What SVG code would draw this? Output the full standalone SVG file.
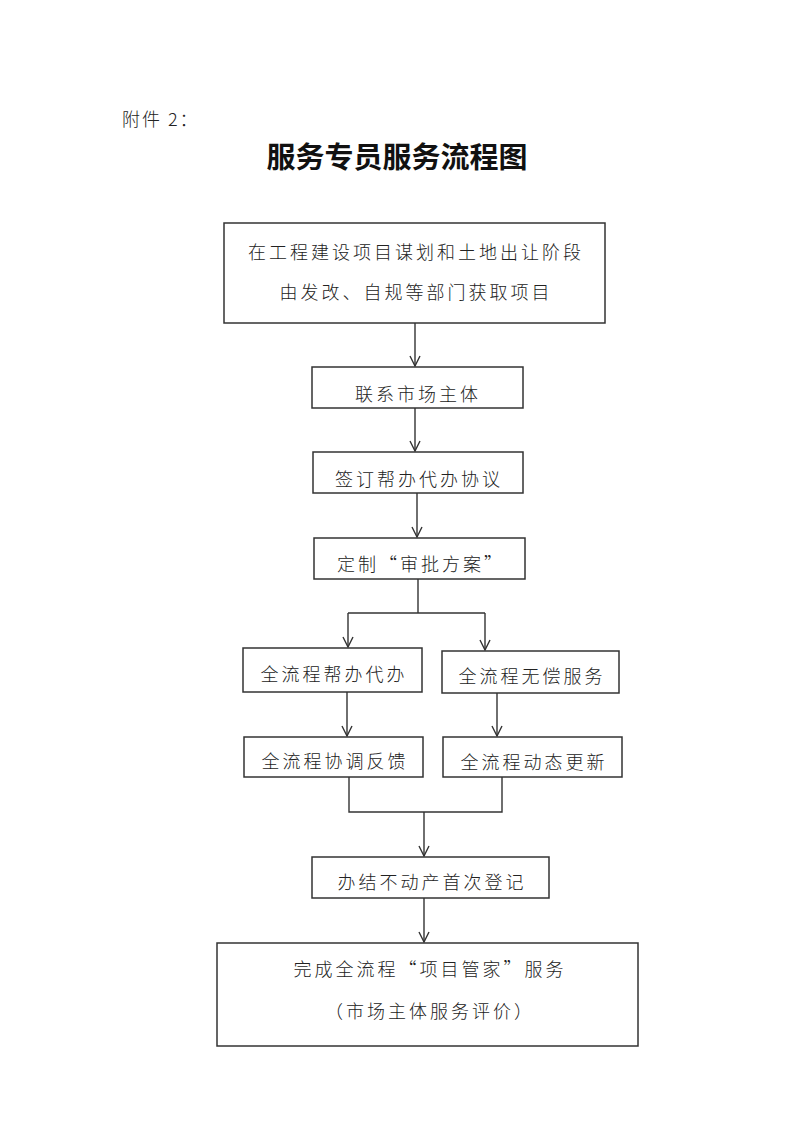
<svg xmlns="http://www.w3.org/2000/svg" width="793" height="1122" viewBox="0 0 793 1122">
<style>
.box{fill:#fff;stroke:#333;stroke-width:1.5}
.t{font-family:"Noto Sans CJK SC","Noto Sans",sans-serif;font-size:18px;font-weight:300;fill:#222;text-anchor:middle;letter-spacing:3px}
.c{fill:none;stroke:#333;stroke-width:1.4}
</style>
<defs>
<marker id="ah" viewBox="0 0 12 12" refX="11" refY="6" markerWidth="12" markerHeight="12" markerUnits="userSpaceOnUse" orient="auto">
<path d="M1,1 L11,6 L1,11" fill="none" stroke="#333" stroke-width="1.4"/>
</marker>
</defs>
<rect width="793" height="1122" fill="#fff"/>
<text x="122" y="126" style="font-family:'Noto Sans CJK SC',sans-serif;font-size:18px;font-weight:300;fill:#222;letter-spacing:2px">附件 2：</text>
<text x="397" y="168" style="font-family:'Noto Sans CJK SC',sans-serif;font-size:29px;font-weight:bold;fill:#111;text-anchor:middle">服务专员服务流程图</text>

<g id="connectors">
<line class="c" x1="415" y1="323" x2="415" y2="366" marker-end="url(#ah)"/>
<line class="c" x1="415" y1="408" x2="415" y2="451" marker-end="url(#ah)"/>
<line class="c" x1="417" y1="493" x2="417" y2="537" marker-end="url(#ah)"/>
<polyline class="c" points="418,579 418,613"/>
<polyline class="c" points="348,613 485,613"/>
<line class="c" x1="348" y1="613" x2="348" y2="647" marker-end="url(#ah)"/>
<line class="c" x1="485" y1="613" x2="485" y2="650" marker-end="url(#ah)"/>
<line class="c" x1="347" y1="692" x2="347" y2="736" marker-end="url(#ah)"/>
<line class="c" x1="497" y1="693" x2="497" y2="736" marker-end="url(#ah)"/>
<polyline class="c" points="349,777 349,812 502,812 502,777"/>
<line class="c" x1="424" y1="812" x2="424" y2="856" marker-end="url(#ah)"/>
<line class="c" x1="424" y1="898" x2="424" y2="942" marker-end="url(#ah)"/>
</g>

<g id="n1">
<rect class="box" x="224" y="223" width="381" height="100"/>
<text class="t" x="416" y="259">在工程建设项目谋划和土地出让阶段</text>
<text class="t" x="416" y="299">由发改、自规等部门获取项目</text>
</g>
<g id="n2">
<rect class="box" x="312" y="367" width="211" height="41"/>
<text class="t" x="418" y="401">联系市场主体</text>
</g>
<g id="n3">
<rect class="box" x="313" y="452" width="210" height="41"/>
<text class="t" x="419" y="486">签订帮办代办协议</text>
</g>
<g id="n4">
<rect class="box" x="314" y="538" width="211" height="41"/>
<text class="t" x="421" y="571">定制“审批方案”</text>
</g>
<g id="n5">
<rect class="box" x="243" y="648" width="179" height="44"/>
<text class="t" x="334" y="681">全流程帮办代办</text>
</g>
<g id="n6">
<rect class="box" x="442" y="651" width="177" height="42"/>
<text class="t" x="532" y="683">全流程无偿服务</text>
</g>
<g id="n7">
<rect class="box" x="244" y="737" width="179" height="40"/>
<text class="t" x="335" y="768">全流程协调反馈</text>
</g>
<g id="n8">
<rect class="box" x="443" y="737" width="179" height="40"/>
<text class="t" x="534" y="769">全流程动态更新</text>
</g>
<g id="n9">
<rect class="box" x="312" y="857" width="237" height="41"/>
<text class="t" x="432" y="889">办结不动产首次登记</text>
</g>
<g id="n10">
<rect class="box" x="217" y="943" width="421" height="103"/>
<text class="t" x="430" y="976">完成全流程“项目管家”服务</text>
<text class="t" x="430" y="1018">（市场主体服务评价）</text>
</g>
</svg>
